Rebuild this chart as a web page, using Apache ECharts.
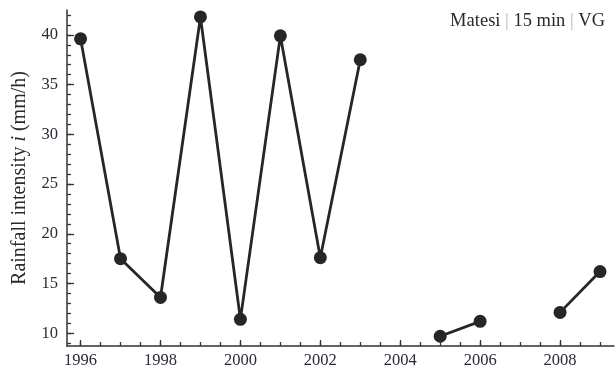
<!DOCTYPE html>
<html><head><meta charset="utf-8">
<script src="https://cdn.jsdelivr.net/npm/echarts@6/dist/echarts.min.js"></script>
<style>html,body{margin:0;padding:0;background:#fff}#c{width:616px;height:374px}</style>
</head><body><div id="c"></div>
<script>
const years = [1996, 1997, 1998, 1999, 2000, 2001, 2002, 2003, 2004, 2005, 2006, 2007, 2008, 2009];
const intensity = [39.6, 17.5, 13.6, 41.8, 11.4, 39.9, 17.6, 37.5, null, 9.7, 11.2, null, 12.1, 16.2];
const xLabelValues = [1996, 1998, 2000, 2002, 2004, 2006, 2008];
const xTickValues = [1996, 1996.5, 1997, 1997.5, 1998, 1998.5, 1999, 1999.5, 2000, 2000.5, 2001, 2001.5, 2002, 2002.5, 2003, 2003.5, 2004, 2004.5, 2005, 2005.5, 2006, 2006.5, 2007, 2007.5, 2008, 2008.5, 2009];
const yLabelValues = [10, 15, 20, 25, 30, 35, 40];
const yMinorValues = [9, 10, 11, 12, 13, 14, 15, 16, 17, 18, 19, 20, 21, 22, 23, 24, 25, 26, 27, 28, 29, 30, 31, 32, 33, 34, 35, 36, 37, 38, 39, 40, 41, 42];
const xMajorTicks = [1996, 1998, 2000, 2002, 2004, 2006, 2008];

const FONT = '"Liberation Serif", "Times New Roman", serif';
const axisCol = '#333';
const X_MIN = 1995.66, X_MAX = 2009.35, Y_MIN = 8.72, Y_MAX = 42.5;

const chart = echarts.init(document.getElementById('c'), null, {renderer: 'canvas'});
const lbl = {fontFamily: FONT, fontSize: 16.5, color: '#2a2a3a'};
chart.setOption({
  animation: false,
  grid: {left: 67, right: 2, top: 10, bottom: 28, containLabel: false},
  title: {
    text: '{a|Matesi }{s||}{a| 15 min }{s||}{a| VG}',
    right: 6, top: 7,
    textStyle: {fontWeight: 'normal', rich: {
      a: {fontFamily: FONT, fontSize: 18.5, fontWeight: 'normal', color: '#2a2a2a'},
      s: {fontFamily: FONT, fontSize: 18.5, fontWeight: 'normal', color: '#a8bcd0'}
    }}
  },
  xAxis: [{
    type: 'value', min: X_MIN, max: X_MAX,
    axisLine: {show: true, lineStyle: {color: axisCol, width: 1.5}},
    axisTick: {show: true, inside: true, length: 4, customValues: xTickValues, lineStyle: {color: axisCol, width: 1.3}},
    axisLabel: Object.assign({customValues: xLabelValues, margin: 6, formatter: v => String(v)}, lbl),
    splitLine: {show: false}
  }, {
    type: 'value', min: X_MIN, max: X_MAX, position: 'bottom',
    axisLine: {show: false},
    axisTick: {show: true, inside: true, length: 6, customValues: xMajorTicks, lineStyle: {color: axisCol, width: 1.3}},
    axisLabel: {show: false}, splitLine: {show: false}
  }],
  yAxis: [{
    type: 'value', min: Y_MIN, max: Y_MAX,
    name: '{n|Rainfall intensity }{i|i}{n| (mm/h)}',
    nameLocation: 'middle', nameGap: 37, nameRotate: 90,
    nameTextStyle: {rich: {
      n: {fontFamily: FONT, fontSize: 20, color: '#2a2a2a'},
      i: {fontFamily: FONT, fontSize: 20, fontStyle: 'italic', color: '#2a2a2a'}
    }},
    axisLine: {show: true, lineStyle: {color: axisCol, width: 1.5}},
    axisTick: {show: true, inside: true, length: 4, customValues: yMinorValues, lineStyle: {color: axisCol, width: 1.3}},
    axisLabel: Object.assign({customValues: yLabelValues, margin: 9}, lbl),
    splitLine: {show: false}
  }, {
    type: 'value', min: Y_MIN, max: Y_MAX, position: 'left', offset: 0,
    axisLine: {show: false},
    axisTick: {show: true, inside: true, length: 7, customValues: yLabelValues, lineStyle: {color: axisCol, width: 1.3}},
    axisLabel: {show: false}, splitLine: {show: false}
  }],
  series: [{
    type: 'line',
    data: years.map((y, i) => [y, intensity[i] == null ? '-' : intensity[i]]),
    connectNulls: false,
    symbol: 'circle', symbolSize: 13,
    lineStyle: {color: '#262626', width: 2.8},
    itemStyle: {color: '#262626'}
  }]
});
</script></body></html>
